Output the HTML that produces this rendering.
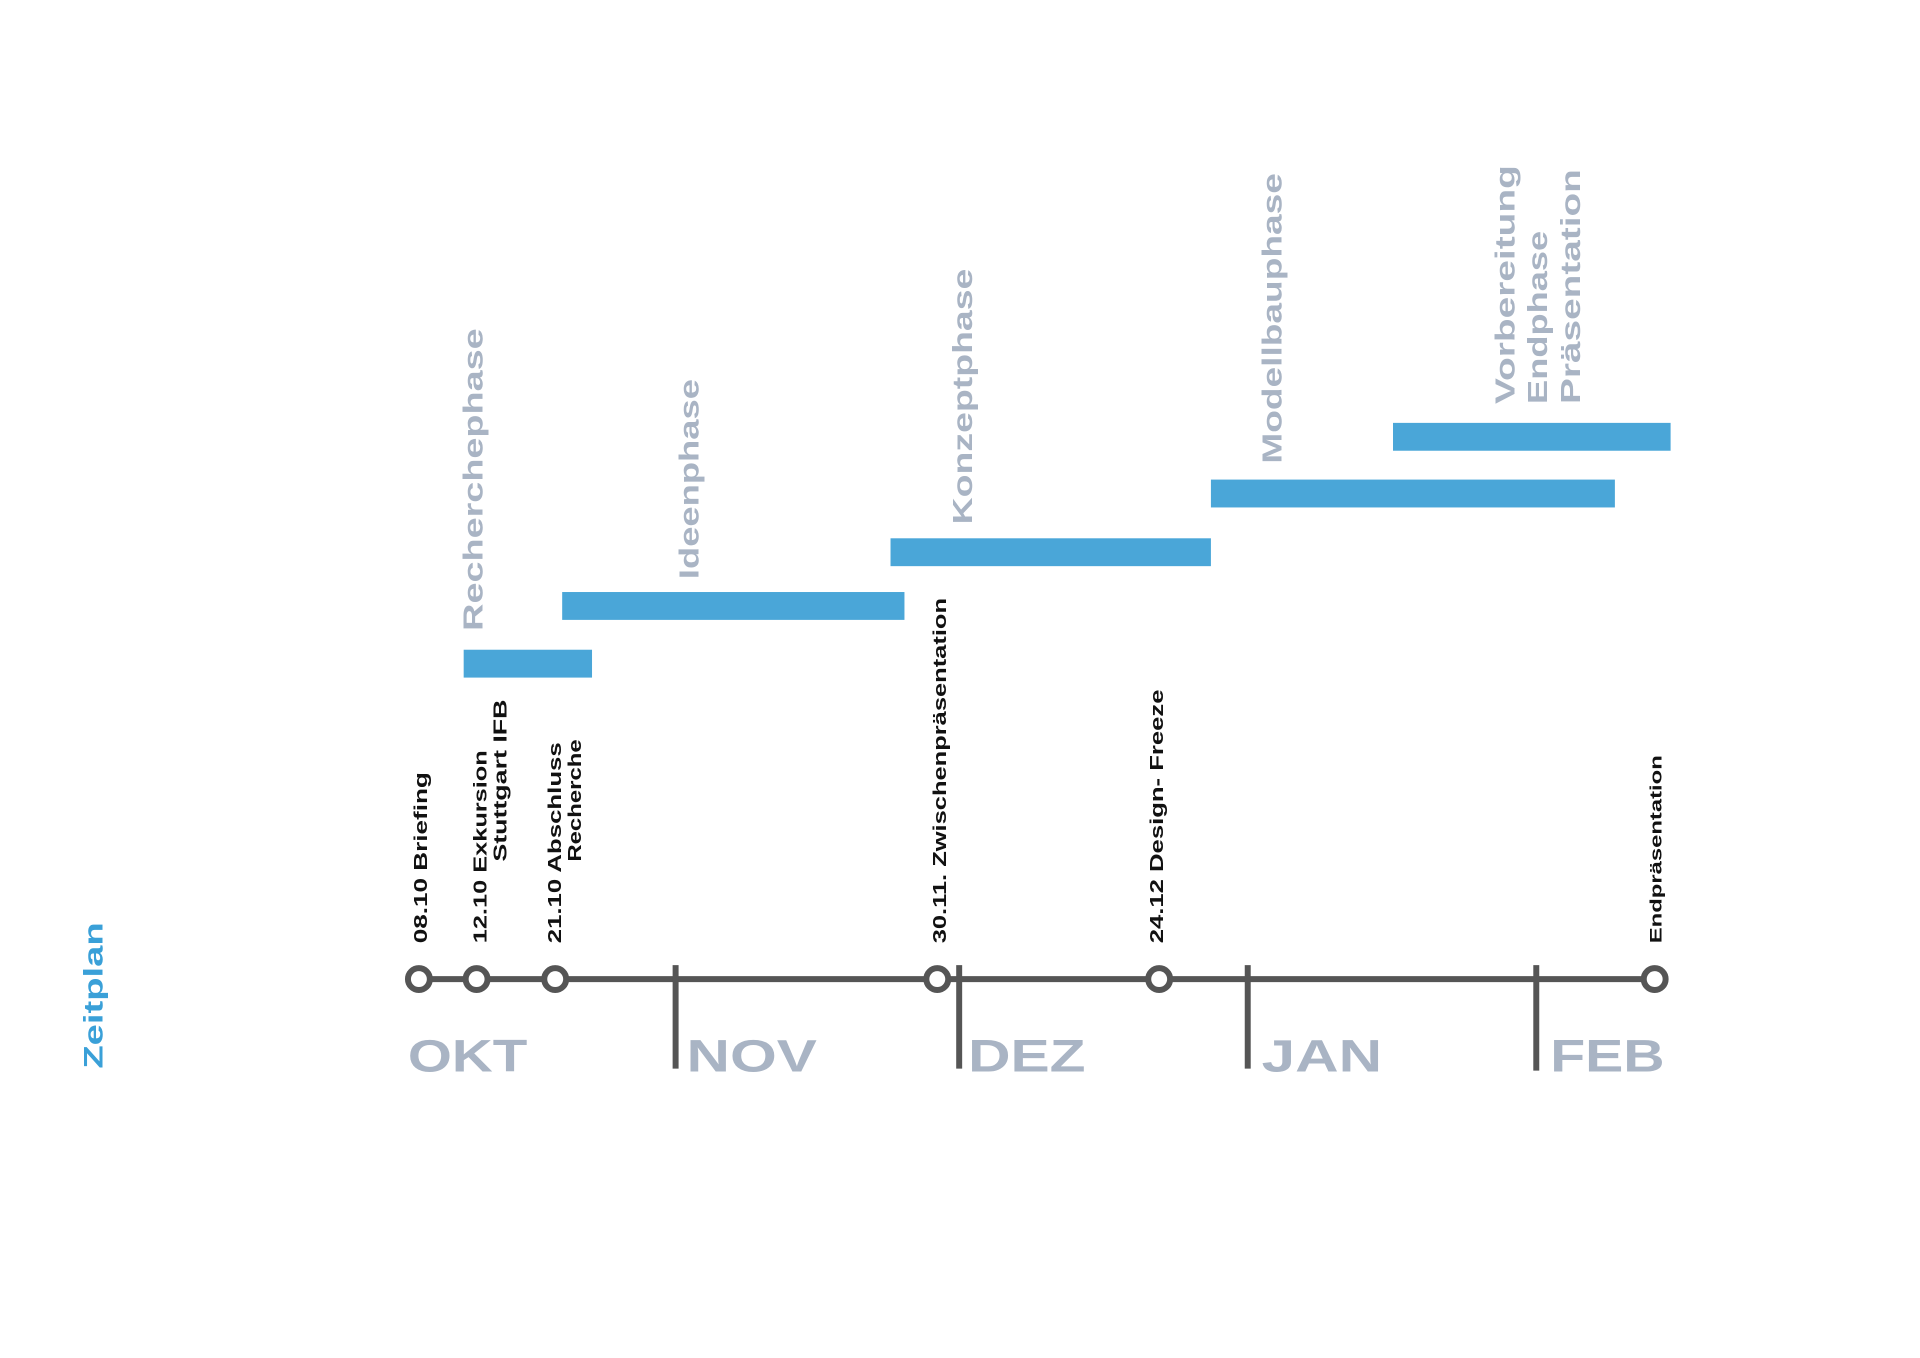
<!DOCTYPE html>
<html><head><meta charset="utf-8"><style>html,body{margin:0;padding:0;background:#fff}svg{display:block}</style></head>
<body>
<svg width="1920" height="1358" viewBox="0 0 1920 1358" xmlns="http://www.w3.org/2000/svg" font-family="Liberation Sans, sans-serif" font-weight="bold">
<rect width="1920" height="1358" fill="#fff"/>
<g transform="scale(0.995)">
<!-- bars -->
<g fill="#4aa6d8">
<rect x="466" y="653" width="129" height="28"/>
<rect x="565" y="595" width="344" height="28"/>
<rect x="895" y="541" width="322" height="28"/>
<rect x="1217" y="482" width="406" height="28"/>
<rect x="1400" y="425" width="279" height="28"/>
</g>
<!-- phase labels -->
<g fill="#a9b4c4" font-size="28">
<text transform="translate(485,634) rotate(-90)" textLength="304" lengthAdjust="spacingAndGlyphs">Recherchephase</text>
<text transform="translate(702,582) rotate(-90)" textLength="201" lengthAdjust="spacingAndGlyphs">Ideenphase</text>
<text transform="translate(977,527) rotate(-90)" textLength="257" lengthAdjust="spacingAndGlyphs">Konzeptphase</text>
<text transform="translate(1288,466) rotate(-90)" textLength="292" lengthAdjust="spacingAndGlyphs">Modellbauphase</text>
<text transform="translate(1522,406) rotate(-90)" textLength="240" lengthAdjust="spacingAndGlyphs">Vorbereitung</text>
<text transform="translate(1555,406) rotate(-90)" textLength="174" lengthAdjust="spacingAndGlyphs">Endphase</text>
<text transform="translate(1588,406) rotate(-90)" textLength="236" lengthAdjust="spacingAndGlyphs">Präsentation</text>
</g>
<!-- milestone labels -->
<g fill="#111" font-size="19">
<text transform="translate(429,948) rotate(-90)" textLength="172" lengthAdjust="spacingAndGlyphs">08.10 Briefing</text>
<text transform="translate(489,948) rotate(-90)" textLength="194" lengthAdjust="spacingAndGlyphs">12.10 Exkursion</text>
<text transform="translate(509,866) rotate(-90)" textLength="163" lengthAdjust="spacingAndGlyphs">Stuttgart IFB</text>
<text transform="translate(564,948) rotate(-90)" textLength="202" lengthAdjust="spacingAndGlyphs">21.10 Abschluss</text>
<text transform="translate(584,866) rotate(-90)" textLength="123" lengthAdjust="spacingAndGlyphs">Recherche</text>
<text transform="translate(951,948) rotate(-90)" textLength="347" lengthAdjust="spacingAndGlyphs">30.11. Zwischenpräsentation</text>
<text transform="translate(1169,948) rotate(-90)" textLength="255" lengthAdjust="spacingAndGlyphs">24.12 Design- Freeze</text>
<text transform="translate(1670,948) rotate(-90)" font-size="17" textLength="189" lengthAdjust="spacingAndGlyphs">Endpräsentation</text>
</g>
<!-- timeline -->
<g stroke="#555" stroke-width="6">
<line x1="421" y1="984" x2="1663" y2="984"/>
<line x1="679" y1="970" x2="679" y2="1074"/>
<line x1="964" y1="970" x2="964" y2="1074"/>
<line x1="1254" y1="970" x2="1254" y2="1074"/>
<line x1="1544" y1="970" x2="1544" y2="1076"/>
</g>
<g stroke="#555" stroke-width="6" fill="#fff">
<circle cx="421" cy="984" r="11"/>
<circle cx="479" cy="984" r="11"/>
<circle cx="558" cy="984" r="11"/>
<circle cx="942" cy="984" r="11"/>
<circle cx="1165" cy="984" r="11"/>
<circle cx="1663" cy="984" r="11"/>
</g>
<!-- months -->
<g fill="#a9b4c4" font-size="46">
<text x="410" y="1077" textLength="120" lengthAdjust="spacingAndGlyphs">OKT</text>
<text x="690" y="1077" textLength="131" lengthAdjust="spacingAndGlyphs">NOV</text>
<text x="973" y="1077" textLength="118" lengthAdjust="spacingAndGlyphs">DEZ</text>
<text x="1268" y="1077" textLength="121" lengthAdjust="spacingAndGlyphs">JAN</text>
<text x="1558" y="1077" textLength="115" lengthAdjust="spacingAndGlyphs">FEB</text>
</g>
<text transform="translate(103,1074) rotate(-90)" fill="#3aa0d8" font-size="27" textLength="147" lengthAdjust="spacingAndGlyphs">Zeitplan</text>
</g>
</svg>
</body></html>
